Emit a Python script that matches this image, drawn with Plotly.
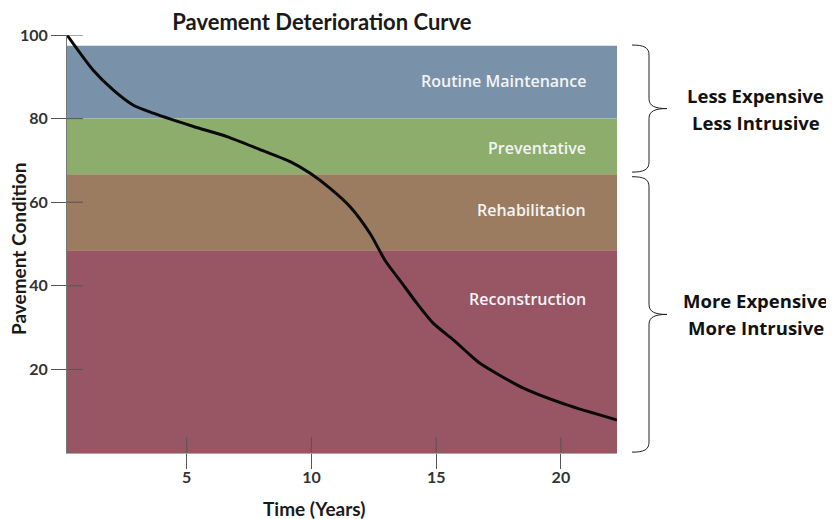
import plotly.graph_objects as go

# ---- data ----
years = [0.2, 1.26, 2.06, 2.86, 3.66, 5.27, 6.61, 7.94, 9.15, 9.95, 10.75, 11.55,
         12.35, 12.96, 13.56, 14.23, 14.89, 15.70, 16.37, 16.77, 18.50, 20.24, 22.25]
condition = [100, 91.5, 86.8, 83.2, 81.3, 78.1, 75.7, 72.6, 69.7, 66.9, 63.3, 58.9,
             52.5, 46.0, 41.2, 35.8, 31.0, 27.0, 23.4, 21.4, 15.5, 11.5, 7.9]

band_names = ["Routine Maintenance", "Preventative", "Rehabilitation", "Reconstruction"]
band_top = [97.4, 80.0, 66.7, 48.5]
band_bottom = [80.0, 66.7, 48.5, 0.0]
band_colors = ["#7a92a9", "#8cad6b", "#9b7c60", "#985664"]
band_label_y = [89.0, 73.0, 58.1, 36.8]

y_ticks = [20, 40, 60, 80, 100]
x_ticks = [5, 10, 15, 20]

brace_lines = [["Less Expensive", "Less Intrusive"], ["More Expensive", "More Intrusive"]]
brace_top = [97.6, 66.1]
brace_bottom = [67.2, 0.2]

x_range = [0.2, 22.25]
y_range = [0, 100]

FONT = "Lato"
fig = go.Figure()

# bands
for name, t, b, c in zip(band_names, band_top, band_bottom, band_colors):
    fig.add_shape(type="rect", xref="x", yref="y", x0=x_range[0], x1=x_range[1],
                  y0=b, y1=t, fillcolor=c, line_width=0, layer="below")

for name, ly in zip(band_names, band_label_y):
    fig.add_annotation(x=21.1, y=ly, xref="x", yref="y", text=name, showarrow=False,
                       xanchor="right", yanchor="middle",
                       font=dict(family="Open Sans", size=16, color="#f4f4f4", weight=600))

fig.add_trace(go.Scatter(x=years, y=condition, mode="lines",
                         line=dict(color="#0a0a0a", width=3, shape="spline", smoothing=0.7),
                         hoverinfo="skip", showlegend=False))

# inside parts of tick marks
for v in y_ticks:
    fig.add_shape(type="line", xref="x", yref="y", xsizemode="pixel", xanchor=x_range[0],
                  x0=0, x1=16, y0=v, y1=v, line=dict(color="#555555", width=1), layer="above")
for v in x_ticks:
    fig.add_shape(type="line", xref="x", yref="y", ysizemode="pixel", yanchor=y_range[0],
                  y0=0, y1=16, x0=v, x1=v, line=dict(color="#555555", width=1), layer="above")

# braces (y range maps exactly onto the paper height, so paper y = value / 100)
span = y_range[1] - y_range[0]
for lines, t, b in zip(brace_lines, brace_top, brace_bottom):
    mid = (t + b) / 2
    pt, pb, pm = t / span, b / span, mid / span
    r = 2.4 / span
    e = 0.6 / span
    path = (f"M 15,{pt} C 27,{pt} 32,{pt - e} 32,{pt - r} "
            f"L 32,{pm + r} C 32,{pm + e} 38,{pm} 50,{pm} "
            f"C 38,{pm} 32,{pm - e} 32,{pm - r} "
            f"L 32,{pb + r} C 32,{pb + e} 27,{pb} 15,{pb}")
    fig.add_shape(type="path", xref="paper", yref="paper", xsizemode="pixel", xanchor=1,
                  path=path, line=dict(color="#222222", width=1))
    for i, line in enumerate(lines):
        fig.add_annotation(x=1.2527, y=pm, xref="paper", yref="paper", text=line,
                           showarrow=False, xanchor="center", yanchor="middle",
                           yshift=13.5 - 27 * i,
                           font=dict(family="Open Sans", size=18.5, color="#111111",
                                     weight="bold"))

# axis titles
fig.add_annotation(x=-0.089, y=0.488, xref="paper", yref="paper", text="Pavement Condition",
                   textangle=-90, showarrow=False, xanchor="center", yanchor="middle",
                   font=dict(family=FONT, size=19, color="#1a1a1a", weight="bold"))
fig.add_annotation(x=0.449, y=-0.132, xref="paper", yref="paper", text="Time (Years)",
                   showarrow=False, xanchor="center", yanchor="middle",
                   font=dict(family=FONT, size=19, color="#1a1a1a", weight="bold"))

# the page body adds an 8px offset, so the figure is 8px smaller than the window
fig.update_layout(
    width=826, height=511,
    margin=dict(l=59, r=217, t=27, b=66),
    paper_bgcolor="white", plot_bgcolor="white",
    title=dict(text="Pavement Deterioration Curve", x=0.380, xanchor="center",
               y=0.973, yanchor="middle",
               font=dict(family=FONT, size=22, color="#1a1a1a", weight="bold")),
    showlegend=False,
)
fig.update_xaxes(range=x_range, tickvals=x_ticks, ticks="outside", ticklen=15,
                 tickcolor="#555555", showgrid=False, zeroline=False, automargin=False,
                 showline=True, linecolor="#aaaaaa", linewidth=1, ticklabelstandoff=-5,
                 tickfont=dict(family=FONT, size=16, color="#333333", weight="bold"))
fig.update_yaxes(range=y_range, tickvals=y_ticks, ticks="outside", ticklen=15,
                 tickcolor="#555555", showgrid=False, zeroline=False, automargin=False,
                 showline=True, linecolor="#777777", linewidth=1,
                 tickfont=dict(family=FONT, size=16, color="#333333", weight="bold"))

fig.write_html("out.html")
